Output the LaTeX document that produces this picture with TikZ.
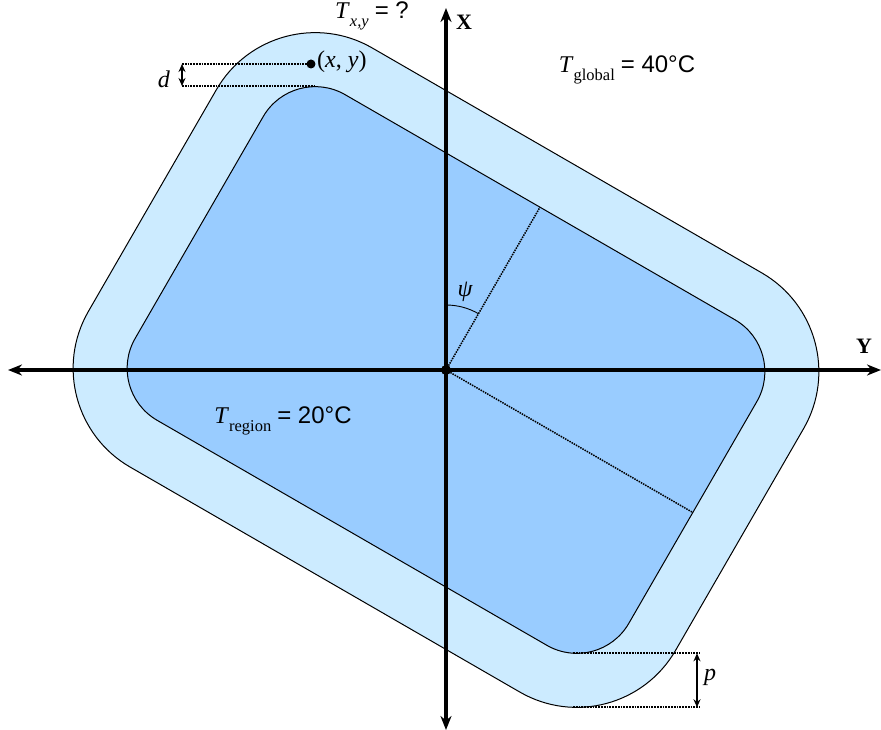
\documentclass[tikz,border=0pt]{standalone}
\usepackage{fontspec}
\setmainfont{Liberation Serif}
\setsansfont{Liberation Sans}
\usetikzlibrary{arrows.meta}
\definecolor{outerblue}{HTML}{CCEBFF}
\definecolor{innerblue}{HTML}{99CCFF}
\newcommand{\lowsub}[1]{\raisebox{-0.33em}{\fontsize{16.5}{17}\selectfont #1}}
\begin{document}
\begin{tikzpicture}[x=1pt,y=1pt,
  region/.style={draw=black,line width=1pt},
  dotline/.style={densely dotted,line width=1.8pt},
  axisline/.style={line width=3.6pt,{Stealth[length=14pt,width=11pt]}-{Stealth[length=14pt,width=11pt]}},
  dimarrow/.style={line width=2.4pt,{Stealth[length=8pt,width=7pt]}-{Stealth[length=8pt,width=7pt]}},
  lbl/.style={font=\fontsize{24}{28}\selectfont,inner sep=0pt},
  axlbl/.style={font=\fontsize{22}{26}\selectfont\bfseries,inner sep=0pt}]
\useasboundingbox (-446,-360) rectangle (435,370);
\begin{scope}[rotate=-30]
  \draw[region,fill=outerblue,rounded corners=114pt] (-339,-242) rectangle (339,242);
  \draw[region,fill=innerblue,rounded corners=60pt] (-285,-188) rectangle (285,188);
  \coordinate (O) at (0,0);
  \coordinate (ex) at (0,188);
  \coordinate (ey) at (285,0);
  \draw[dotline,line width=1.5pt] (O) -- (ex);
  \draw[dotline,line width=1.5pt] (O) -- (ey);
\end{scope}
% psi arc
\coordinate (psiA) at (0,65);
\draw[line width=0.9pt] (psiA) arc[start angle=90,end angle=60,radius=65];
% dimension d
\coordinate (P) at (-135,306);
\coordinate (dtop) at (-264,306);
\coordinate (dbot) at (-264,284);
\coordinate (itop) at (-131,284);
\draw[dotline] (dtop) -- (P);
\draw[dotline] (dbot) -- (itop);
\draw[dimarrow] (dtop) -- (dbot);
% dimension p
\coordinate (ibot) at (127,-283.3);
\coordinate (obot) at (127,-337.3);
\coordinate (ptop) at (254,-283.3);
\coordinate (pbot) at (254,-337.3);
\coordinate (parrt) at (251,-283.3);
\coordinate (parrb) at (251,-337.3);
\draw[dotline] (ibot) -- (ptop);
\draw[dotline] (obot) -- (pbot);
\draw[dimarrow] (parrt) -- (parrb);
% axes
\coordinate (xl) at (-438,0);
\coordinate (xr) at (435,0);
\coordinate (yt) at (0,362);
\coordinate (yb) at (0,-360);
\draw[axisline] (xl) -- (xr);
\draw[axisline] (yb) -- (yt);
\fill (O) circle[radius=5];
\fill (P) circle[radius=4.5];
% labels
\node[axlbl] (Xl) at (18,348) {X};
\node[axlbl] (Yl) at (418,24) {Y};
\node[lbl] (psi) at (19,78) {\itshape ψ};
\node[lbl,anchor=west] (pt) at (-129,308) {(\textit{x}, \textit{y})};
\node[lbl] (dl) at (-282,291) {\itshape d};
\node[lbl] (pl) at (264,-307) {\itshape p};
\node[lbl] (txy) at (-74,354) {\textit{T}\lowsub{\textit{x,y}} {\sffamily = ?}};
\node[lbl] (tg) at (181,300) {\textit{T}\lowsub{global} {\sffamily = 40°C}};
\node[lbl] (tr) at (-163,-51) {\textit{T}\lowsub{region} {\sffamily = 20°C}};
\end{tikzpicture}
\end{document}
